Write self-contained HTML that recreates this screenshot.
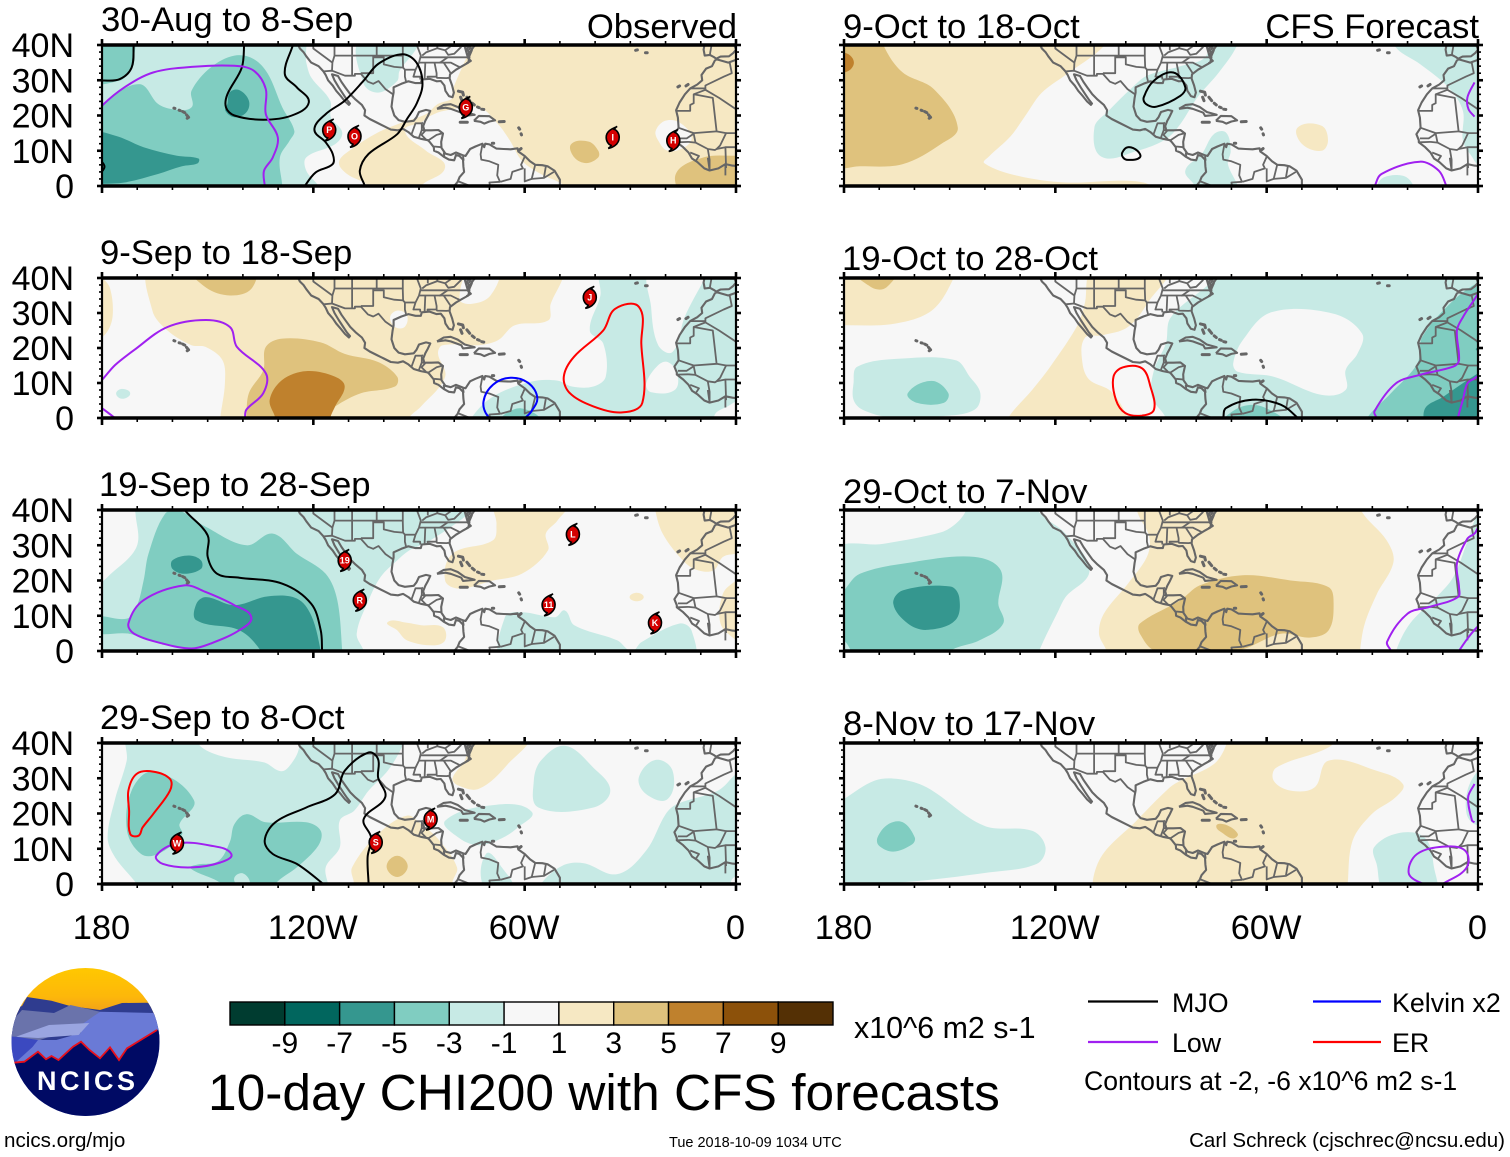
<!DOCTYPE html>
<html lang="en">
<head>
<meta charset="utf-8">
<title>10-day CHI200 with CFS forecasts</title>
<style>
html,body{margin:0;padding:0;background:#fff;}
svg{display:block;font-family:"Liberation Sans",Arial,sans-serif;}
</style>
</head>
<body>
<svg id="chart" xmlns="http://www.w3.org/2000/svg" width="1510" height="1157" viewBox="0 0 1510 1157">
<rect x="0" y="0" width="1510" height="1157" fill="#fff"/>
<g id="panels"></g>

<g font-size="34.65" fill="#000">
<text x="101" y="31">30-Aug to 8-Sep</text>
<text x="100" y="264">9-Sep to 18-Sep</text>
<text x="99" y="496">19-Sep to 28-Sep</text>
<text x="100" y="729">29-Sep to 8-Oct</text>
<text x="737" y="38" text-anchor="end">Observed</text>
<text x="843" y="38">9-Oct to 18-Oct</text>
<text x="842" y="270">19-Oct to 28-Oct</text>
<text x="843" y="503">29-Oct to 7-Nov</text>
<text x="843" y="735">8-Nov to 17-Nov</text>
<text x="1479" y="38" text-anchor="end">CFS Forecast</text>
</g>

<g id="colorbar"></g>
<text x="854" y="1038" font-size="30.4">x10^6 m2 s-1</text>
<text x="208" y="1110" font-size="51.45">10-day CHI200 with CFS forecasts</text>

<g font-size="26.8">
<line x1="1088" x2="1158" y1="1001.5" y2="1001.5" stroke="#000" stroke-width="2.2"/>
<text x="1172" y="1012">MJO</text>
<line x1="1313" x2="1381" y1="1001.5" y2="1001.5" stroke="#0000ff" stroke-width="2.2"/>
<text x="1392" y="1012">Kelvin x2</text>
<line x1="1088" x2="1158" y1="1042" y2="1042" stroke="#a020f0" stroke-width="2.2"/>
<text x="1172" y="1052">Low</text>
<line x1="1313" x2="1381" y1="1042" y2="1042" stroke="#ff0000" stroke-width="2.2"/>
<text x="1392" y="1052">ER</text>
<text x="1084" y="1090" font-size="26.6">Contours at -2, -6 x10^6 m2 s-1</text>
</g>

<text x="4" y="1147" font-size="20.6">ncics.org/mjo</text>
<text x="669" y="1147" font-size="14.5">Tue 2018-10-09 1034 UTC</text>
<text x="1505" y="1147" font-size="20.5" text-anchor="end">Carl Schreck (cjschrec@ncsu.edu)</text>

<g>
<defs>
<clipPath id="logo-clip"><ellipse cx="85.5" cy="1042" rx="74" ry="74"/></clipPath>
<linearGradient id="sky" x1="0" y1="0" x2="0" y2="1"><stop offset="0" stop-color="#ffc800"/><stop offset="0.6" stop-color="#fdb70a"/><stop offset="1" stop-color="#ee9a1e"/></linearGradient>
</defs>
<g clip-path="url(#logo-clip)">
<rect x="0" y="1000" width="170" height="120" fill="#6a7ad6"/>
<rect x="0" y="968" width="170" height="48" fill="url(#sky)"/>
<path fill="#2f3c8f" d="M0 1013 L22 1006 L27 997 L51.5 1000.7 L70 1006 L100 1010 L122 1003 L147 1002.7 L165 1008 L165 1040 L0 1040Z"/>
<path fill="#6a73ab" d="M13 1020 L22 1010 L54 1013 L70.5 1005 L100 1011.7 L81 1026 L40 1040 L0 1042Z"/>
<path fill="#6a7ad6" d="M81 1025 L100 1011.7 L154 1013 L165 1015 L165 1040 L125 1062 L10 1075 L32.5 1046.7 L81 1033Z"/>
<path fill="#9aa5e0" d="M16 1036.7 L49 1025 L89.4 1023 L78.6 1035 L38 1038Z"/>
<path fill="#3b49c0" d="M0 1036 L16 1036.7 L38 1040 L32.5 1047 L16 1062 L0 1062Z"/>
<path fill="#000a64" d="M0 1063 L13.5 1062.7 L24.4 1061.7 L38 1051.7 L46 1059.3 L51.5 1056 L58.5 1060 L73 1046.7 L81 1041.7 L89.5 1050 L100 1058.3 L110 1047.3 L119 1060 L127 1048.3 L157 1030 L170 1025 L170 1125 L0 1125Z"/>
<path fill="none" stroke="#e8101c" stroke-width="1.8" d="M13.5 1062.7 L24.4 1061.7 L38 1051.7 L46 1059.3 L51.5 1056 L58.5 1060 L73 1046.7 L81 1041.7 L89.5 1050 L100 1058.3 L110 1047.3 L119 1060 L127 1048.3 L157 1030"/>
</g>
<text x="37" y="1090" font-size="27" font-weight="bold" fill="#fff" letter-spacing="3.5">NCICS</text>
</g>
</svg>

<script>
// ---------- colour scale ----------
const colorbarLevels = [-9, -7, -5, -3, -1, 1, 3, 5, 7, 9];
const binCentres = [-10, -8, -6, -4, -2, 0, 2, 4, 6, 8, 10];
const binColors = ['#003c30', '#01665e', '#35978f', '#80cdc1', '#c7eae5', '#f7f7f7', '#f6e8c3', '#dfc27d', '#bf812d', '#8c510a', '#543005'];

// ---------- axes ----------
const lonTickLabels = ['180', '120W', '60W', '0'];
const lonMajorTicks = [180, 120, 60, 0];
const lonMinorTicks = [170, 160, 150, 140, 130, 110, 100, 90, 80, 70, 50, 40, 30, 20, 10];
const latTickLabels = ['0', '10N', '20N', '30N', '40N'];
const latMajorTicks = [0, 10, 20, 30, 40];
const latMinorTicks = [2, 4, 6, 8, 12, 14, 16, 18, 22, 24, 26, 28, 32, 34, 36, 38];

// ---------- contour colours by wave type ----------
const waveColors = { mjo: '#000000', low: '#a020f0', kelvin: '#0000ff', er: '#ff0000' };

// ---------- map base, [degrees west, degrees north] ----------
const coastlines = [
 [[124.4,41],[124.3,40],[123.8,39],[122.8,38],[122,36.8],[120.6,35],[118.5,34],[117.2,32.6],[116.5,31.5],[115.8,30],[114.5,28.5],[113.5,27],[112.2,25.5],[111,24],[109.9,23],[109.6,23.4],[110.5,24.5],[111.5,26],[112.8,28],[114,30],[114.7,31.7],[113,31.2],[112,29.5],[110.8,27.8],[109.5,26],[108,24.5],[106.2,23],[105.3,21.5],[105.5,20],[104,19],[102,18],[100,17],[98,16],[96,15.8],[94.5,16.2],[93,15.3],[91.5,14],[89.5,13.4],[87.5,13],[87,12.5],[85.8,11],[85.7,10],[84.5,9.5],[83,8.3],[81.5,7.5],[80,7.3],[79.5,8.8],[78.5,8.5],[77.5,7.5],[77.4,5.5],[77.2,4],[78.5,2.5],[79,1.2],[80,0],[80.2,-1]],
 [[77.5,8.7],[79.5,9.5],[81,8.8],[82.5,9.2],[83.6,10.8],[83.7,12.5],[83.2,14.9],[84.5,15.9],[86.5,15.8],[88.5,15.8],[88.8,17],[88.2,18.5],[87.5,19.8],[86.8,21.3],[88,21.6],[90,21],[90.7,19.5],[91.5,18.5],[94,18.2],[95.8,18.7],[97,20],[97.8,22.5],[97.5,25],[97.2,26.5],[97.2,28],[95,29],[93,29.7],[91,29.2],[89.5,29.2],[89.2,30.2],[87,30.4],[85,29.7],[83.8,29.8],[82.8,28.5],[82.5,27],[81.5,25.5],[80.5,25.2],[80.1,26.5],[80.6,28.5],[81.3,30.5],[81.2,31.7],[79.5,33],[77.8,34],[76,35],[75.7,36.5],[76,37.2],[75.5,38],[74.5,39.5],[74,40],[73.5,41]],
 [[77.5,8.7],[76.8,8.5],[75.5,10.5],[74,11.2],[72,12],[71.5,11],[71.2,12],[70,11.8],[68,10.6],[66,10.5],[64,10.4],[62,10.7],[61.8,9.8],[60,8.5],[58.5,7],[57,6],[55,5.9],[53.5,5.6],[51.5,4.3],[50,1.8],[50,0],[50,-1]],
 [[84.9,21.9],[83,23],[81,23.2],[79,22.4],[77,21],[74.2,20.2],[77.5,19.9],[78,20.8],[81,21.9],[82.5,22.2],[84.9,21.9]],
 [[74.4,18.5],[73,19.9],[70,19.8],[68.4,18.6],[70,18.3],[71.5,17.7],[72.5,18.2],[74.4,18.5]],
 [[77,39.5],[76.3,37],[75.8,38],[76.5,39],[75.5,39.7],[75,38.5],[76,36.2],[75.3,35.5],[76.5,34.8]],
 [[9,39.7],[9.2,38.7],[8.9,37],[7.4,37.2],[6.3,36.6],[5.6,36.1],[4.4,36.7],[2,36.8],[0.8,37.7],[0,38.7],[0.3,39.5],[0.5,41]],
 [[5.9,35.8],[6.8,34],[8.5,33.3],[9.8,31.5],[9.6,30],[11,28.8],[13,27.7],[14.5,26],[16,23.7],[17,21.5],[16.5,19.4],[16.3,16.5],[17.5,14.7],[16.8,13],[16.8,12.4],[15,11],[13.5,9.5],[12.5,7.8],[11,6.8],[9,5],[7.5,4.4],[5,5],[3,6.2],[1,5.8],[-1,5.6]],
 [[5.9,35.8],[5.3,35.9],[2.2,35],[0,35.8],[-1,36]]
];
const islands = [
 [[78.3,18.1],[76.3,18.1]],[[67.2,18.2],[65.8,18.3]],
 [[78.8,26.9],[77.6,26.6],[77.4,25.8]],[[78.2,25.2],[77.8,24.2]],[[76.4,25.2],[75.6,24.2]],[[74.9,23.5],[74.3,23]],[[73.4,22.4],[72.9,22.2]],[[72.2,21.8],[71.6,21.7]],
 [[61.7,16.5],[61.4,16.1]],[[61,14.8],[60.9,14.5]],[[61.4,10.3],[61,10.6]],[[69.2,12.1],[68.8,12.1]],
 [[159.6,22.1],[159.3,22]],[[158.1,21.5],[157.8,21.4]],[[157.1,21.1],[156.5,20.8]],[[156,20.2],[155.4,19.5],[155.8,19.2]],
 [[16.5,28.1],[16,28.4]],[[14.2,28.4],[13.6,28.8]],[[28.5,38.5],[28,38.6]],[[25.7,37.8],[25.2,37.8]]
];
const borders = [
 [[117.1,32.5],[114.7,32.7],[111,31.3],[108.2,31.3],[108.2,31.8],[106.5,31.8],[104.5,29.6],[103,29],[101.5,29.8],[99.5,27.5],[97.2,25.9]],
 [[120,41],[120,39],[114.6,35]],[[114,41],[114,37],[114.6,35],[114.7,32.7]],[[114,37],[94.6,37]],[[109,41],[109,31.3]],[[102,41],[102,37]],
 [[103,37],[103,32],[106.5,32]],[[103,36.5],[100,36.5],[100,34.5],[97,33.8],[94.5,33.6]],[[95.3,40],[110,40]],
 [[94.6,41],[94.6,36.5],[94.5,33.6],[94,33],[94,31],[93.7,29.7]],[[94,33],[91,33]],
 [[91,41],[89.5,37],[90,35],[91,33],[91.6,31],[89.7,31],[89.6,30.2]],[[88.2,35],[88.4,30.3]],[[85.6,35],[85,32],[85,31],[87.6,31],[87.5,30.4]],
 [[85,31],[84.9,30.7],[82.2,30.6],[81.5,30.7]],[[90,35],[84,35],[81.7,36.6]],[[89.5,36.5],[75.9,36.5]],[[84.3,35],[81,35],[79,34],[78.5,33.8]],[[83,35],[81,32]],
 [[82.6,38.5],[84.8,39.1],[88,37.9],[89.1,37]],[[87.5,41],[87.5,38.5]],[[84.8,41],[84.8,39.1]],[[80.5,41],[80.6,39.7],[75.8,39.7],[75.7,38.5]],[[80.5,40],[82.6,38.5],[81.7,37.2],[80,37.5],[78,39.5]],
 [[92.2,14.5],[91,17.8],[89.2,17.8],[88.9,18]],[[89.2,17.8],[89.2,15.9],[88.2,15.7]],[[89.2,15.9],[90,13.8]],[[88.2,15.7],[89.3,14.5],[88,13.2]],[[87.3,13],[85,14.5],[83.2,15]],[[85.7,11.2],[83.7,11]],[[83,9.5],[82.8,8.2]],[[77.5,8.6],[77.3,7.2]],
 [[72,11.8],[72.5,9],[72.3,7.5],[70,7],[67.5,6],[67.8,3],[67,1.2],[70,1],[69.8,0]],[[60,8.3],[61,6],[60.5,5],[63.5,4],[64,2],[66.8,1.2]],[[57,6],[58,2],[60,1.3],[60,5]],[[54,5.5],[54.5,2.5]],[[51.7,4],[54.5,2.3],[58,2]],[[78.8,1.3],[75.5,0]],
 [[7,39.6],[7.3,38],[7.4,37.2]],
 [[1.8,35],[1.2,32],[3.5,31],[8.7,28.5],[8.7,27.3]],[[13,27.7],[8.7,27.7]],[[8.7,27.3],[12,26],[12,23.5],[13,23],[13,21.3],[17,21.3]],[[8.7,27.3],[4.8,25],[0,21.8]],[[12,26],[6.6,25],[5.5,15.5],[12,15],[16.3,16.5]],
 [[12,14.8],[11.5,12.3],[8,10.5],[6,10.2],[5.5,10.5],[4.5,11.5],[2.8,15],[5.5,15.5]],[[8,10.5],[7.5,7.5],[7.5,4.4]],[[3,11],[2.8,5.1]],[[0,11],[0,6]],[[5.5,10.5],[3,11],[0,11],[0,15],[2.8,15]],[[13.5,12.5],[11.5,12.3]],[[13,9.5],[10.5,8.5],[11.5,7]],[[8,8],[7.5,4.4]],[[16.5,13.5],[14,13.5],[12,14.8]],[[16.7,12.4],[13.5,12.5]],[[0,15],[-2,15]],[[3,3],[3,6.2]]
];

// ---------- 30-Aug to 8-Sep ----------
const fills30Aug = [
 [-2, [[183,43],[123.5,43],[122,35],[120.6,30.8],[115.2,24.2],[115,19.5],[111.8,15.2],[113.8,11.9],[122,8.1],[122,4.3],[118.6,0],[118,-3],[183,-3]]],
 [-2, [[106.4,42],[105.7,29],[101.6,26.5],[96.2,29.8],[95.5,32.7],[90.7,39],[90,42]]],
 [-4, [[183,21],[180,23.3],[169.5,28.9],[164.1,23.3],[160,21.8],[154.6,22.3],[154.6,27],[149.2,33.6],[142.4,37],[136.9,36],[132.9,31.8],[128.8,22.3],[125.4,15.7],[126.7,12.9],[129.5,8.1],[128.8,0],[128.8,-3],[183,-3]]],
 [-4, [[183,43],[171.6,43],[171,36],[172.5,32],[175,29.9],[183,30]]],
 [-6, [[183,14.5],[176.3,14.3],[168.2,11],[158.7,8.6],[152.6,7.8],[152.9,6.4],[157.3,5.6],[164.1,3.4],[173.6,1],[180,0.6],[183,0.5]]],
 [-6, [[144.4,23.3],[143.7,26.6],[141,27.2],[138.3,24.2],[139,20.9],[142.4,19.5],[145,21.4]]],
 [2, [[74.4,41],[77.8,33.6],[80.5,27],[80.5,24.9],[84.6,23.3],[88,20.4],[94.8,18],[101.6,15.2],[109.8,10],[112.7,6.7],[110.4,3.4],[104.3,0],[104.3,-3],[89.4,-3],[89.4,0],[82.6,5.3],[88,10],[94,15.7],[89.4,18],[86.6,20],[82.6,21.4],[73,22.3],[67.6,17.6],[64.2,12.9],[60.8,7.2],[55.4,3.4],[48.6,0],[48,-3],[-3,-3],[-3,43],[74,43]]],
 [0, [[22.8,15.7],[20.1,18.5],[16,18],[12.6,13.8],[14.6,11],[19.4,10],[22.1,12.9]]],
 [4, [[46.8,11.9],[41.8,12.6],[39.1,10],[39.1,8.1],[42.5,6.5],[45.9,8.1]]],
 [4, [[17.1,3.4],[9.2,8.1],[0,8.6],[-3,8.6],[-3,-3],[14,-3]]]
];
const contours30Aug = [
 ['mjo', [[182,29.9],[180,29.9],[175,30.3],[171.6,33.6],[171,40],[171,41]]],
 ['mjo', [[139.6,41],[140.3,33.6],[144.4,26],[144.8,22.3],[142.4,20],[134.2,18.8],[126.1,20],[121.3,23.7],[124.7,28],[128.1,31.8],[125.8,40],[125.5,41]]],
 ['mjo', [[122.6,-1],[122.4,0],[119.3,3.9],[114.5,6.2],[114.5,9.1],[116.5,12.4],[119.7,16],[116.5,20.4],[111.1,24.2],[105.7,29.9],[101.6,34.6],[94.8,37.4],[90.7,35],[89,28.9],[90.7,23.3],[93.4,19],[96.2,14.7],[104.3,9.1],[106.8,4.3],[105.4,0],[105.4,-1]]],
 ['mjo', [[180.5,7.5],[179.3,5.5],[180.5,3.5]]],
 ['low', [[183,19],[180,22.8],[173.6,28],[165.5,32.2],[154.6,33.8],[142.4,34.1],[136.9,32.7],[133.5,27.5],[133.5,20.4],[130.1,13.8],[131.5,8.1],[134,4.3],[133.8,0],[133.8,-1]]]
];
const storms30Aug = [[115.5, 15.9, 'P'], [108.3, 14.1, 'O'], [76.7, 22.3, 'G'], [35, 13.8, 'I'], [17.8, 12.9, 'H']];

// ---------- 9-Sep to 18-Sep ----------
const fills9Sep = [
 [2, [[165.7,43],[165.7,30.7],[161.4,25],[154.6,20.8],[150.6,20.3],[145.8,16.5],[145.1,9.9],[146.4,0],[146.4,-3],[92.8,-3],[92.8,0],[89.4,3.3],[82.6,11.8],[84.6,18.4],[83.3,20.8],[73,20.8],[67.6,22.2],[62.8,26.5],[53.3,27.9],[52.6,32.6],[49.3,39.7],[49,43]]],
 [2, [[183,41],[180,40],[177.7,37],[177,29],[179,24],[183,22]]],
 [0, [[75.1,43],[67.6,43],[69.7,35],[75.1,32.6],[78.5,34]]],
 [0, [[98.2,28.8],[96.2,30.7],[93.4,29.3],[94.1,26],[96.8,26]]],
 [4, [[154.6,43],[136.9,43],[137.6,36.9],[143.7,35],[150.5,37.3]]],
 [4, [[139,-3],[139,0],[138.3,7.1],[134.2,13.7],[133.5,20.3],[128.8,22.7],[117.9,21.6],[111.1,18.3],[101.6,16],[96.2,11.8],[96.8,9],[106.4,7.1],[113.8,3.3],[117.2,0],[117,-3]]],
 [6, [[132.4,5.2],[128.8,10.9],[122,13.4],[113.8,11.8],[111.1,9],[113.8,3.3],[115.2,0],[115.2,-3],[130.8,-3],[130.8,0]]],
 [-2, [[38,43],[38.5,35],[41.5,25],[37.7,21.3],[37,11.8],[40.5,9],[46.6,9],[50.7,10.7],[58.1,10.4],[69,6.1],[75.1,0],[75.1,-3],[-3,-3],[-3,43]]],
 [0, [[24,43],[24.1,31.7],[22.1,20.8],[18,18.9],[14.6,28.8],[9.2,39.2],[7,43]]],
 [0, [[25.5,9.9],[22.1,15.1],[19.4,16],[16.7,12.8],[17.4,8],[24.2,7.4]]],
 [0, [[-3,5],[3,3],[6,1],[6,-3],[-3,-3]]],
 [-2, [[176,7],[174.3,8.3],[172,7],[174.3,5.5]]],
 [-4, [[66.3,-1],[61.5,2.8],[56,-1]]]
];
const contours9Sep = [
 ['low', [[183,8],[180,10.9],[176.3,15.1],[170.9,19.4],[161.4,26],[150.5,28],[143.7,26],[141.7,20.3],[133.5,12.8],[134.2,7.1],[139,2.4],[139.4,0],[139.4,-1]]],
 ['low', [[181,3.5],[180,2.8],[176.3,0],[175,-1]]],
 ['kelvin', [[71.7,4.7],[69,9.5],[64,11.5],[58.8,9.9],[56.4,5.7],[58.1,1.9],[59.9,0],[64,-4],[70.4,0.5]], true],
 ['er', [[48.9,11.8],[46,17.5],[37.7,25],[34.3,31.2],[27.5,31.7],[26.9,21.3],[26.6,4.3],[32.3,1.6],[40.5,3.3],[47.2,7.1]], true]
];
const storms9Sep = [[41.5, 34.5, 'J']];

// ---------- 19-Sep to 28-Sep ----------
const fills19Sep = [
 [-2, [[171,43],[170.5,39],[170.2,29.5],[178.4,21],[183,16],[183,-3],[105.7,-3],[105.7,0],[107.7,4.9],[104.3,14.4],[100.9,21],[96.2,25.7],[92.8,28.5],[86.7,31.4],[75.1,39.6],[73,43]]],
 [-2, [[65.6,-3],[65.6,9.6],[60.8,11],[51.3,9.6],[48.6,11.5],[45.9,7.3],[33.7,3],[29.6,0],[26.9,2.5],[16,7.8],[12.6,5.8],[12.6,-3]]],
 [-4, [[162.1,38.9],[158,39.8],[150.5,35.2],[139,30],[131.5,33.3],[124.7,27.6],[116.5,21.9],[113.2,14.4],[111.8,0],[111.8,-3],[154.6,-3],[154.6,0],[164.1,2.3],[172.3,4.9],[183,5.4],[183,9.6],[172.9,9.2],[170.2,12.5],[168.2,20],[166.8,27.6]]],
 [-6, [[153.2,13.4],[150.5,15.3],[142.4,13],[132.9,15.5],[124.7,14.9],[120.6,10.1],[117.9,0],[117.9,-3],[134.9,-3],[134.9,0],[141,5.9],[153.2,8.7]]],
 [-6, [[160,25.7],[155.3,27.1],[151.9,25.7],[151.9,23.3],[156.6,21.9],[160,23.3]]],
 [2, [[68.3,43],[47.3,43],[50.7,37],[54,33.3],[53.4,28.5],[60.8,21.9],[69,20],[78.5,17.7],[82.6,20],[80.5,27.6],[69,31.4],[68,36]]],
 [2, [[22.8,43],[22.8,39.4],[20.8,33.3],[16,26.7],[11.9,23.3],[6.5,22.8],[3.7,26.7],[0,27.6],[-3,28],[-3,43]]],
 [2, [[-3,22],[0,20],[3.7,16.3],[4.4,7.8],[0,3],[-3,1]]],
 [2, [[30.2,15.3],[28.2,16.5],[26.2,15.3],[28.2,14.1]]],
 [2, [[98.9,8.2],[93.4,8],[89.4,7.3],[83.3,6.8],[82.6,3],[86,1.6],[93.4,3],[96.2,5.9]]]
];
const contours19Sep = [
 ['mjo', [[158,42],[156,39.4],[150,32.8],[150,26.7],[147.3,21.9],[141,20.8],[128.8,19.1],[120.6,13.4],[117.9,5.9],[117.5,0],[117.5,-1]]],
 ['low', [[172.5,7.8],[168.2,14.4],[156.6,18.6],[150.5,16.7],[142.4,13],[137.6,9.6],[141,5.9],[149.2,2.1],[154.6,0.7],[162.7,2.1],[170.9,4.9]], true]
];
const storms19Sep = [[111.1, 25.7, '19'], [106.8, 14.4, 'R'], [46.3, 33.1, 'L'], [53.2, 13.1, '11'], [23, 8, 'K']];

// ---------- 29-Sep to 8-Oct ----------
const fills29Sep = [
 [-2, [[172.3,43],[173,35],[176.3,24],[178.4,13.2],[176.3,7.6],[170.9,1],[168,-3],[116.5,-3],[116.5,4.7],[112.5,10.4],[112.5,18],[108.4,20.8],[104.3,26.5],[98.9,32.1],[94.8,39],[94,43],[125,43],[124,39],[126,34.5],[129,32],[134,34.5],[145,36],[152,39],[153.5,43]]],
 [-2, [[48.6,39.2],[40.5,33],[35.7,26.5],[40.5,21.7],[56.1,21.7],[57.4,29.3],[55.4,35]]],
 [-2, [[22.8,35.2],[18,32.1],[19.4,24.1],[25.5,25.5],[27.6,30.2]]],
 [-2, [[82.5,18],[68,22.5],[58,20.5],[62,16],[66.5,13],[73,11],[78.5,13]]],
 [-2, [[71,8.5],[66.5,4.7],[63.5,-2],[71,-2]]],
 [-2, [[55.4,-3],[55.4,0],[49.3,5.2],[43.2,5.9],[33.7,2.8],[25.5,9.5],[20,19.8],[16.7,22.7],[5.1,26.5],[0,31.2],[-3,33],[-3,-3]]],
 [0, [[-3,2],[1,1.5],[1,-3],[-3,-3]]],
 [-4, [[165.5,31.9],[153.9,23.8],[158,17],[157.3,14],[164.1,8.5],[168.9,8.5],[172.9,15.1],[171.6,26.5]]],
 [-4, [[142.4,17],[139,19.8],[133.5,17.5],[122,17.5],[117.9,15.1],[118.6,10.9],[124.7,4.7],[130.8,0],[130.8,-3],[146,-3],[146,0],[155,4.5],[153,5.5],[147,6.5],[143.7,12]]],
 [-2, [[142.5,1.5],[140,3],[138,0],[140.5,-1]]],
 [2, [[74.4,43],[59,43],[64.8,34],[73,27],[79,28],[80.5,30],[77,35]]],
 [2, [[109,4.7],[101.6,14.2],[93.4,19.4],[89.4,17],[84.6,12.8],[79.2,4.7],[80.5,0.5],[80,-3],[108,-3],[108.5,0.5]]],
 [4, [[99.2,5],[96.2,8],[93.2,5],[96.2,2]]]
];
const contours29Sep = [
 ['er', [[172.5,26.5],[170.2,31.2],[165.5,31.9],[160.7,29.8],[160.7,26.5],[165.5,19.8],[168.5,16],[169.6,13.7],[172,14.2],[172.3,20.8]], true],
 ['low', [[164.6,8],[158.7,11.5],[149.2,10.9],[143.3,8.5],[146.4,6.1],[154.6,4.7],[162.7,5.7]], true],
 ['mjo', [[116.5,-1],[117.2,0],[124.7,5.7],[131.5,8.5],[133.8,12.3],[130.8,17.5],[122,21.7],[113.8,25.5],[111.1,32.1],[104.3,37.3],[101.6,35.4],[101.6,30.2],[99.6,24.6],[105.7,18.4],[103.6,13.2],[104.6,7.6],[104.3,0],[104.3,-1]]]
];
const storms29Sep = [[158.7, 11.6, 'W'], [102.3, 11.8, 'S'], [86.7, 18.4, 'M']];

// ---------- 9-Oct to 18-Oct ----------
const fills9Oct = [
 [2, [[183,43],[106.2,43],[106.2,39.7],[117.1,31.5],[123.9,26.4],[128.6,19.8],[132.7,14.1],[138.8,8.4],[140.2,6.5],[130.7,2.9],[117.1,1],[99.4,1.5],[92.6,0],[92,-3],[183,-3]]],
 [4, [[183,43],[168.5,43],[168.5,39.3],[163.3,32.2],[154.5,27.5],[147.7,16.6],[152.5,11.9],[163.3,6.2],[175.5,5.6],[183,6.2]]],
 [6, [[183,37.5],[179,37.5],[177.2,35],[179,32.5],[183,32.5]]],
 [-2, [[74.3,43],[68.5,43],[68.5,39.7],[73.6,32.2],[79.7,25.1],[84.5,17.6],[88.6,13.3],[96.7,10],[106.9,8.3],[108.9,16.6],[104.9,21.3],[98.1,28],[94,31.3],[84.5,34],[77.7,36.3]]],
 [-2, [[75,14.7],[71.6,15.2],[70.2,10],[71,6.2],[68.2,0],[68,-3],[80.4,-3],[80.4,0],[83.1,4.3],[78.4,9.1]]],
 [-2, [[23.3,43],[23.3,39.3],[16.5,34.6],[8.4,28],[4.3,21.3],[4.3,12.9],[1.6,8.1],[0,6],[-3,5],[-3,43]]],
 [-2, [[28.8,-2],[28.8,0],[26.7,2.5],[21.3,2.9],[18.6,0.6],[18.6,-2]]],
 [2, [[51.2,16.6],[44.4,17.1],[42.6,12.9],[44.4,10],[49.9,11.9]]]
];
const contours9Oct = [
 ['mjo', [[94.9,25.1],[92,29.9],[86.5,32.2],[83.1,28],[84.5,25.6],[91.3,22.5],[94.3,23.3]], true],
 ['mjo', [[101,9.5],[99.4,11],[96.7,10],[96,8.1],[99.4,7.4],[100.8,8.1]], true],
 ['low', [[29.4,-1],[29.3,0],[27.4,3.4],[16.5,6.9],[11.1,4.3],[9,0],[8.8,-1]]],
 ['low', [[1,29.4],[3,25.1],[2.7,21.8],[1,19.7]]]
];

// ---------- 19-Oct to 28-Oct ----------
const fills19Oct = [
 [2, [[183,43],[149,43],[149,39.7],[155.1,30.7],[166,26.9],[180,26.5],[183,26.5]]],
 [4, [[176.9,43],[165.3,43],[168,37.3],[172.1,37.3]]],
 [2, [[108.9,43],[88.6,43],[93.3,33.6],[99.4,26],[106.9,23.6],[111.7,22.8],[112.3,15.6],[110.3,10.9],[104.2,7.6],[99.4,0],[99.4,-3],[133.4,-3],[133.4,0],[126.6,8],[121.2,15],[113.7,26.5],[111.7,32.5]]],
 [-2, [[177.3,9.9],[176.2,14.7],[163.3,17],[148.3,16.5],[144.3,11.8],[141.3,7.1],[142.9,2.4],[152.4,0.5],[166,0],[174.8,2.4],[177.3,5.2]]],
 [-4, [[161.9,7.1],[155.1,10.6],[150.4,7.1],[151.7,4.3],[159.2,4.3]]],
 [-2, [[75,43],[75,39.7],[87.2,28.8],[88.6,21.3],[92,13.7],[92.6,6.1],[88.6,0],[88.6,-3],[-3,-3],[-3,43]]],
 [0, [[69.5,15.6],[66.8,22.2],[58.7,30.2],[41,29.8],[32.9,24.1],[34.2,18.4],[37.6,13.7],[37.6,8],[44.4,6.6],[58,11.8],[68.2,13.2]]],
 [-4, [[31.5,-3],[31.5,0],[24.7,7.1],[17.2,15.6],[15.8,23.2],[7,33.6],[0,38.8],[-3,40],[-3,-3]]],
 [-4, [[72.3,-2],[68.2,2.8],[61.4,3.3],[55.2,-2]]],
 [-6, [[15.2,2.4],[9.8,6.1],[0,12.8],[-3,14],[-3,-3],[13.5,-3]]],
 [-6, [[0.6,22],[-0.5,20.8],[0.6,19.5],[-2,19],[-2,22]]]
];
const contours19Oct = [
 ['er', [[103.5,11.8],[100.8,14.5],[95.4,14.2],[93,9],[92,2.4],[95.4,0.7],[100.1,1.4],[102.8,5.2]], true],
 ['mjo', [[72.4,-1],[72.3,0],[71.6,2.8],[64.1,5.2],[56,3.8],[51.2,0],[51,-1]]],
 ['low', [[28.8,-1],[28.8,0],[29.4,1.9],[23.3,9.9],[16.6,12.3],[7,14.7],[5.4,16.5],[6,25],[4.3,28.8],[1.2,33.6],[0,35.5]]],
 ['low', [[5.7,-1],[5.7,0],[4.3,5.2],[3,9.9],[1,11.3],[0,12]]]
];

// ---------- 29-Oct to 7-Nov ----------
const fills29Oct = [
 [-2, [[183,-3],[183,28],[168.7,30.4],[152.4,33.7],[148.3,36.1],[145.6,39.4],[145,43],[124.6,43],[124.6,39.4],[117.1,33.3],[110.3,22.9],[117.1,15.3],[119.1,11.5],[124.6,0],[125,-3]]],
 [-4, [[183,14],[180,17.2],[175.5,21.9],[160.6,25.2],[143,26.7],[135.5,22.9],[136.2,13.4],[134.8,7.8],[141.6,3],[149.8,0],[150,-3],[175,-3],[180,3],[183,4]]],
 [-6, [[166,13.4],[163.3,17.2],[149.8,18.3],[147.3,15.3],[148.4,8.7],[156.5,6],[161.9,7.8]]],
 [2, [[96.7,43],[96.7,39.4],[93.3,32.3],[94,26.7],[99.4,19.1],[106.2,10.6],[107.6,4.9],[105.5,0],[105.5,-3],[33.5,-3],[33.5,0],[32.2,7.6],[28.8,16],[24,25.3],[26,31.5],[32.9,39.4],[33,43]]],
 [4, [[96,7.8],[84.5,14.4],[79,18.6],[66.8,21.5],[53.2,20],[42.4,18.1],[41,13.4],[42.4,5.9],[47.8,3.8],[56,4.9],[68.2,0.2],[91.3,0],[96,4.9]]],
 [-2, [[23.3,-3],[23.3,0],[19.3,7.8],[11.8,15.3],[7,21],[2.9,31.4],[0,39.4],[-3,43],[-3,-3]]]
];
const contours29Oct = [
 ['low', [[24.6,-1],[24.7,0],[25.8,2.6],[20,10.6],[13.8,12.5],[5.7,15.3],[5.4,18.1],[6,24.8],[3,31.9],[1,33.3],[0,35]]],
 ['low', [[5.8,-1],[5.4,0],[3,3.5],[1,6],[0,7]]]
];

// ---------- 8-Nov to 17-Nov ----------
const fills8Nov = [
 [-2, [[183,22],[180,24.1],[171.4,29.3],[164.6,29.8],[156.5,27.4],[140.2,16.5],[126.6,15.1],[122.8,10.4],[125.3,5.7],[138.8,3.3],[163.3,0.5],[180,0.5],[183,0]]],
 [-4, [[170.5,13.2],[167.4,17],[163.3,17.5],[159.9,13.2],[160.6,11.3],[166,9.2],[170.1,10.9]]],
 [2, [[71.6,43],[41.7,43],[41.7,39.2],[57.3,33],[58,29.3],[53.2,26.5],[46.4,27.4],[42.4,35],[28.8,32.1],[21.3,28.3],[23.4,24.6],[30.2,19.8],[35.6,12.3],[37,0],[37,-3],[107.6,-3],[107.6,6.6],[96.9,18],[87.5,27.4],[84.5,29.3],[75,34],[71.6,39.2]]],
 [4, [[74.3,16.5],[71.6,16.8],[68.2,14.2],[69.5,12.9],[72.2,14.2]]],
 [-2, [[29.5,10.4],[22.7,14.4],[15.2,13.2],[12.5,4.7],[12.5,-3],[26,-3],[28.8,5.7]]],
 [-2, [[-2,32.1],[0,32.1],[3,26.5],[3.2,19.8],[1,17],[-2,17]]]
];
const contours8Nov = [
 ['low', [[19.7,3.3],[17.3,8.5],[9.8,10.6],[3.7,9.5],[3.2,4.7],[9.2,0.5],[12,-0.5],[16.7,0.5]], true],
 ['low', [[1,28.4],[2.8,24.6],[1.7,18],[1,17.5]]]
];

// ---------- panel layout ----------
const panels = [
 { id: '30aug', left: 102, top: 45,  bottom: 186, fills: fills30Aug, contours: contours30Aug, storms: storms30Aug, yLabels: true,  xLabels: false },
 { id: '9sep',  left: 102, top: 278, bottom: 418, fills: fills9Sep,  contours: contours9Sep,  storms: storms9Sep,  yLabels: true,  xLabels: false },
 { id: '19sep', left: 102, top: 510, bottom: 651, fills: fills19Sep, contours: contours19Sep, storms: storms19Sep, yLabels: true,  xLabels: false },
 { id: '29sep', left: 102, top: 743, bottom: 884, fills: fills29Sep, contours: contours29Sep, storms: storms29Sep, yLabels: true,  xLabels: true },
 { id: '9oct',  left: 844, top: 45,  bottom: 186, fills: fills9Oct,  contours: contours9Oct,  storms: [], yLabels: false, xLabels: false },
 { id: '19oct', left: 844, top: 278, bottom: 418, fills: fills19Oct, contours: contours19Oct, storms: [], yLabels: false, xLabels: false },
 { id: '29oct', left: 844, top: 510, bottom: 651, fills: fills29Oct, contours: contours29Oct, storms: [], yLabels: false, xLabels: false },
 { id: '8nov',  left: 844, top: 743, bottom: 884, fills: fills8Nov,  contours: contours8Nov,  storms: [], yLabels: false, xLabels: true }
];

const SVGNS = 'http://www.w3.org/2000/svg';
const PANEL_WIDTH = 634;
const LON_SPAN = 180;
const LAT_SPAN = 40;

function lonToX(lon, panel) { return panel.left + (LON_SPAN - lon) / LON_SPAN * PANEL_WIDTH; }
function latToY(lat, panel) { return panel.bottom - lat / LAT_SPAN * (panel.bottom - panel.top); }
function create(tag, parent) {
  const el = document.createElementNS(SVGNS, tag);
  parent.appendChild(el);
  return el;
}
function straightPath(points, panel) {
  return points.map((p, i) => (i ? 'L' : 'M') + lonToX(p[0], panel).toFixed(1) + ' ' + latToY(p[1], panel).toFixed(1)).join(' ');
}
function unit(ax, ay) {
  const len = Math.hypot(ax, ay) || 1;
  return [ax / len, ay / len];
}
function smoothPath(points, panel, closed) {
  const pts = points.map(p => [lonToX(p[0], panel), latToY(p[1], panel)]);
  const n = pts.length;
  const at = i => closed ? pts[(i + n) % n] : pts[Math.max(0, Math.min(n - 1, i))];
  let d = 'M' + pts[0][0].toFixed(1) + ' ' + pts[0][1].toFixed(1);
  const segs = closed ? n : n - 1;
  for (let i = 0; i < segs; i++) {
    const p0 = at(i - 1), p1 = at(i), p2 = at(i + 1), p3 = at(i + 2);
    const h = Math.hypot(p2[0] - p1[0], p2[1] - p1[1]) / 3;
    const t1 = unit(p2[0] - p0[0], p2[1] - p0[1]);
    const t2 = unit(p3[0] - p1[0], p3[1] - p1[1]);
    const c1x = p1[0] + t1[0] * h, c1y = p1[1] + t1[1] * h;
    const c2x = p2[0] - t2[0] * h, c2y = p2[1] - t2[1] * h;
    d += ' C' + c1x.toFixed(1) + ' ' + c1y.toFixed(1) + ' ' + c2x.toFixed(1) + ' ' + c2y.toFixed(1) + ' ' + p2[0].toFixed(1) + ' ' + p2[1].toFixed(1);
  }
  return closed ? d + 'Z' : d;
}
function tick(parent, x1, y1, x2, y2, w) {
  const t = create('line', parent);
  
  
  t.setAttribute('x1', x1);
  t.setAttribute('y1', y1);
  t.setAttribute('x2', x2);
  t.setAttribute('y2', y2);
  t.setAttribute('stroke', '#000');
  t.setAttribute('stroke-width', w);
}

const root = document.getElementById('panels');
const defs = create('defs', root);

panels.forEach(function (panel) {
  const g = create('g', root);
  
  

  const clipId = 'clip-' + panel.id;
  const clip = create('clipPath', defs);
  clip.setAttribute('id', clipId);
  const clipRect = create('rect', clip);
  clipRect.setAttribute('x', panel.left);
  clipRect.setAttribute('y', panel.top);
  clipRect.setAttribute('width', PANEL_WIDTH);
  clipRect.setAttribute('height', panel.bottom - panel.top);

  const bg = create('rect', g);
  
  
  bg.setAttribute('x', panel.left);
  bg.setAttribute('y', panel.top);
  bg.setAttribute('width', PANEL_WIDTH);
  bg.setAttribute('height', panel.bottom - panel.top);
  bg.setAttribute('fill', binColors[binCentres.indexOf(0)]);

  const clipped = create('g', g);
  
  
  clipped.setAttribute('clip-path', 'url(#' + clipId + ')');

  panel.fills.forEach(function (f) {
    const region = create('path', clipped);
    
    
    region.setAttribute('d', smoothPath(f[1], panel, true));
    region.setAttribute('fill', binColors[binCentres.indexOf(f[0])]);
  });

  coastlines.forEach(function (c) {
    const line = create('path', clipped);
    
    
    line.setAttribute('d', straightPath(c, panel));
    line.setAttribute('fill', 'none');
    line.setAttribute('stroke', '#666');
    line.setAttribute('stroke-width', '2.1');
    line.setAttribute('stroke-linejoin', 'round');
  });
  islands.forEach(function (c) {
    const line = create('path', clipped);
    
    
    line.setAttribute('d', straightPath(c, panel));
    line.setAttribute('fill', 'none');
    line.setAttribute('stroke', '#666');
    line.setAttribute('stroke-width', '3');
    line.setAttribute('stroke-linecap', 'round');
    line.setAttribute('stroke-linejoin', 'round');
  });
  borders.forEach(function (c) {
    const line = create('path', clipped);
    
    
    line.setAttribute('d', straightPath(c, panel));
    line.setAttribute('fill', 'none');
    line.setAttribute('stroke', '#666');
    line.setAttribute('stroke-width', '1.8');
    line.setAttribute('stroke-linejoin', 'round');
  });

  panel.contours.forEach(function (c) {
    const line = create('path', clipped);
    
    
    line.setAttribute('d', smoothPath(c[1], panel, !!c[2]));
    line.setAttribute('fill', 'none');
    line.setAttribute('stroke', waveColors[c[0]]);
    line.setAttribute('stroke-width', '2');
  });

  panel.storms.forEach(function (s) {
    const sg = create('g', g);
    
    
    sg.setAttribute('transform', 'translate(' + lonToX(s[0], panel).toFixed(1) + ' ' + latToY(s[1], panel).toFixed(1) + ')');
    const body = create('path', sg);
    
    
    body.setAttribute('d', 'M4.5 -11 C2 -9.5 -6.5 -7.5 -6.5 0 C-6.5 4 -4 7.5 -1.5 8 C-2 9 -3.5 10.5 -4.5 11 C-1 10.5 6.5 7.5 6.5 0 C6.5 -4 4 -7.5 1.5 -8 C2 -9 3.5 -10.5 4.5 -11Z');
    body.setAttribute('fill', '#d40000');
    body.setAttribute('stroke', '#000');
    body.setAttribute('stroke-width', '1.6');
    const label = create('text', sg);
    
    
    label.setAttribute('text-anchor', 'middle');
    label.setAttribute('y', '3.2');
    label.setAttribute('font-size', '9');
    label.setAttribute('font-weight', 'bold');
    label.setAttribute('fill', '#fff');
    label.textContent = s[2];
  });

  const axes = create('g', g);
  
  
  const right = panel.left + PANEL_WIDTH;

  lonMinorTicks.forEach(function (l) {
    const x = lonToX(l, panel);
    tick(axes, x, panel.top, x, panel.top - 4, 1.6);
    tick(axes, x, panel.bottom, x, panel.bottom + 4, 1.6);
  });
  lonMajorTicks.forEach(function (l) {
    const x = lonToX(l, panel);
    tick(axes, x, panel.top, x, panel.top - 6, 2.6);
    tick(axes, x, panel.bottom, x, panel.bottom + 7, 2.6);
  });
  latMinorTicks.forEach(function (l) {
    const y = latToY(l, panel);
    tick(axes, panel.left, y, panel.left - 3, y, 1.6);
    tick(axes, right, y, right + 3, y, 1.6);
  });
  latMajorTicks.forEach(function (l) {
    const y = latToY(l, panel);
    tick(axes, panel.left, y, panel.left - 5, y, 2.6);
    tick(axes, right, y, right + 5, y, 2.6);
  });

  const frame = create('path', axes);
  
  
  frame.setAttribute('d', 'M' + panel.left + ' ' + panel.top + ' H' + right + ' M' + panel.left + ' ' + panel.bottom + ' H' + right);
  frame.setAttribute('stroke', '#000');
  frame.setAttribute('stroke-width', '3.4');
  frame.setAttribute('fill', 'none');
  const sides = create('path', axes);
  
  
  sides.setAttribute('d', 'M' + panel.left + ' ' + panel.top + ' V' + panel.bottom + ' M' + right + ' ' + panel.top + ' V' + panel.bottom);
  sides.setAttribute('stroke', '#000');
  sides.setAttribute('stroke-width', '2.2');
  sides.setAttribute('fill', 'none');

  if (panel.yLabels) {
    latTickLabels.forEach(function (txt, i) {
      const t = create('text', axes);
      
      
      t.setAttribute('x', panel.left - 28);
      t.setAttribute('y', latToY(latMajorTicks[i], panel) + 12);
      t.setAttribute('text-anchor', 'end');
      t.setAttribute('font-size', '34');
      t.textContent = txt;
    });
  }
  if (panel.xLabels) {
    lonTickLabels.forEach(function (txt, i) {
      const t = create('text', axes);
      
      
      t.setAttribute('x', lonToX(lonMajorTicks[i], panel) - 0.5);
      t.setAttribute('y', 939);
      t.setAttribute('text-anchor', 'middle');
      t.setAttribute('font-size', '34.4');
      t.textContent = txt;
    });
  }
});

// ---------- colour bar ----------
const cbRoot = document.getElementById('colorbar');
const CB_LEFT = 230, CB_RIGHT = 833, CB_TOP = 1002, CB_BOTTOM = 1025;
const cbStep = (CB_RIGHT - CB_LEFT) / binColors.length;
binColors.forEach(function (color, i) {
  const box = create('rect', cbRoot);
  
  
  box.setAttribute('x', CB_LEFT + i * cbStep);
  box.setAttribute('y', CB_TOP);
  box.setAttribute('width', cbStep);
  box.setAttribute('height', CB_BOTTOM - CB_TOP);
  box.setAttribute('fill', color);
  box.setAttribute('stroke', '#000');
  box.setAttribute('stroke-width', '1.4');
});
colorbarLevels.forEach(function (level, i) {
  const t = create('text', cbRoot);
  
  
  t.setAttribute('x', CB_LEFT + (i + 1) * cbStep);
  t.setAttribute('y', 1053);
  t.setAttribute('text-anchor', 'middle');
  t.setAttribute('font-size', '30');
  t.textContent = level;
});
</script>
</body>
</html>
